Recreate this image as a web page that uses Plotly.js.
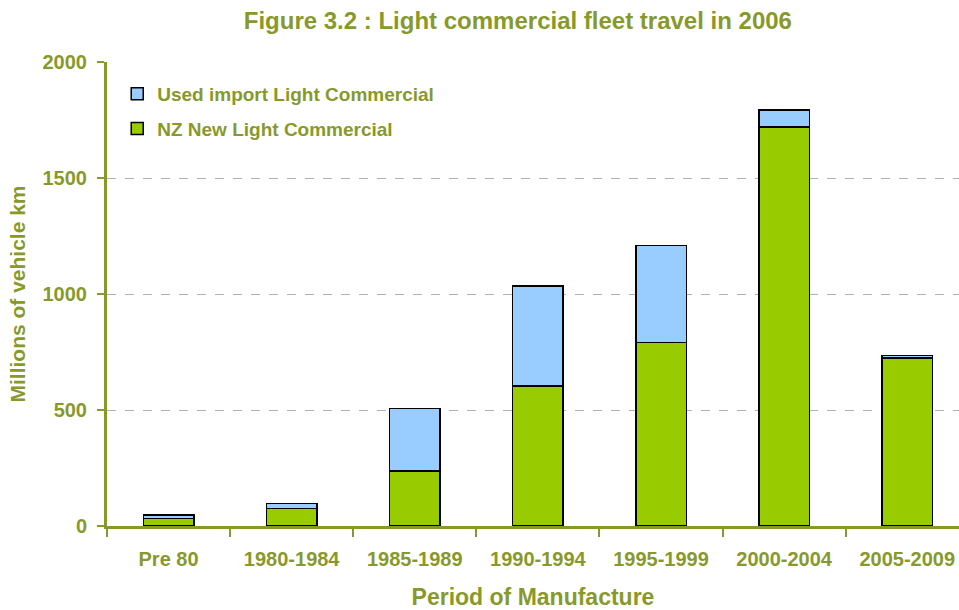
<!DOCTYPE html>
<html>
<head>
<meta charset="utf-8">
<script src="https://cdn.plot.ly/plotly-3.0.1.min.js"></script>
<style>html,body{margin:0;padding:0;background:#fff;}#chart{width:959px;height:610px;}</style>
</head>
<body>
<div id="chart"></div>
<script>
const categories = ["Pre 80", "1980-1984", "1985-1989", "1990-1994", "1995-1999", "2000-2004", "2005-2009"];
const nzNew = [33, 75, 238, 604, 790, 1720, 724];
const usedImport = [15, 23, 268, 430, 418, 73, 10];
const yTicks = [0, 500, 1000, 1500, 2000];

const olive = "#88992b";
const font = "Liberation Sans, Arial, sans-serif";

const traces = [
  {
    type: "bar", name: "<b>NZ New Light Commercial</b>", x: categories, y: nzNew,
    marker: {color: "#99cc00", line: {color: "#000", width: 1.5}},
    width: 0.41, legendrank: 2, legendgroup: "nz"
  },
  {
    type: "bar", name: "<b>Used import Light Commercial</b>", x: categories, y: usedImport,
    marker: {color: "#99ccff", line: {color: "#000", width: 1.5}},
    width: 0.41, legendrank: 1, legendgroup: "used"
  }
];

const layout = {
  width: 959, height: 610,
  margin: {l: 107, r: 0, t: 62, b: 84},
  paper_bgcolor: "#fff", plot_bgcolor: "#fff",
  barmode: "stack",
  font: {family: font, color: olive, size: 20},
  title: {
    text: "<b>Figure 3.2 : Light commercial fleet travel in 2006</b>",
    font: {size: 24, color: olive, family: font},
    x: 0.54, xanchor: "center", y: 0.967, yanchor: "middle"
  },
  xaxis: {
    type: "category", range: [-0.5, 6.42],
    tickvals: categories, ticktext: categories.map(c => "<b>" + c + "</b>"),
    showline: true, linecolor: olive, linewidth: 3,
    ticks: "outside", tickson: "boundaries", ticklen: 8, tickcolor: olive, tickwidth: 2,
    ticklabelstandoff: 13,
    tickfont: {size: 20, color: olive, family: font},
    title: {text: "<b>Period of Manufacture</b>", font: {size: 23, color: olive, family: font}, standoff: 24},
    showgrid: false, zeroline: false, fixedrange: true
  },
  yaxis: {
    range: [0, 2000], tickvals: yTicks, ticktext: yTicks.map(v => "<b>" + v + "</b>"),
    showline: true, linecolor: olive, linewidth: 3,
    ticks: "outside", ticklen: 7, tickcolor: olive, tickwidth: 2,
    ticklabelstandoff: 6,
    tickfont: {size: 20, color: olive, family: font},
    showgrid: true, gridcolor: "#b0b0b0", griddash: "dash", gridwidth: 1,
    zeroline: false,
    title: {text: "<b>Millions of vehicle km</b>", font: {size: 21, color: olive, family: font}, standoff: 12}
  },
  legend: {
    x: 0.012, y: 0.972, xanchor: "left", yanchor: "top",
    traceorder: "grouped", tracegroupgap: 7,
    font: {size: 19, color: olive, family: font},
    bgcolor: "rgba(0,0,0,0)", itemwidth: 30
  },
  showlegend: true
};

Plotly.newPlot("chart", traces, layout, {displayModeBar: false, staticPlot: true});
</script>
</body>
</html>
